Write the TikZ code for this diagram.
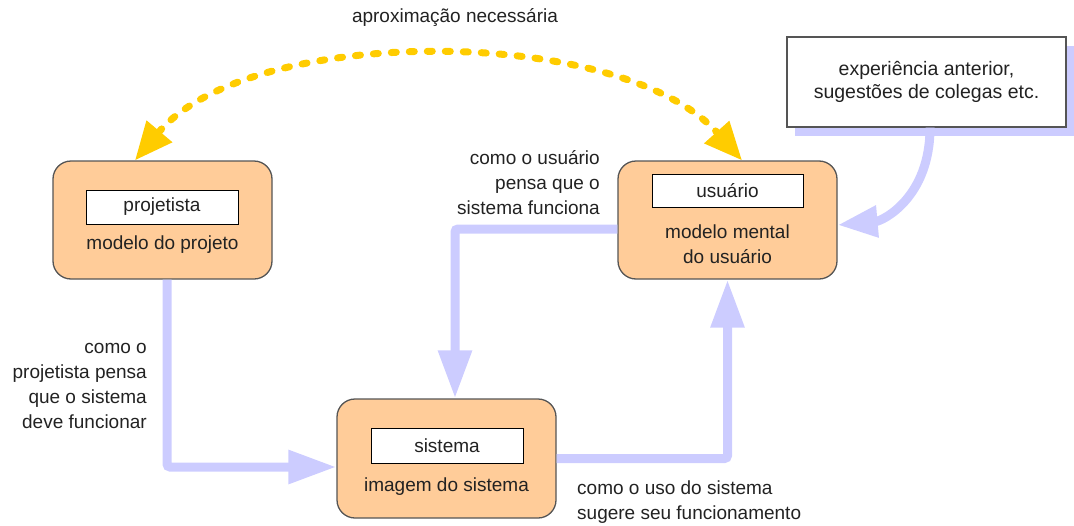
\documentclass[tikz,border=0pt]{standalone}
\usepackage{fontspec}
\setmainfont{Liberation Sans}
\usetikzlibrary{arrows.meta,shadows}
\definecolor{boxfill}{HTML}{FFCC99}
\definecolor{boxline}{HTML}{555555}
\definecolor{lav}{HTML}{CCCCFF}
\definecolor{gold}{HTML}{FFCC00}
\definecolor{txt}{HTML}{222222}
\begin{document}
\begin{tikzpicture}[x=1pt,y=-1pt,
  every node/.style={font=\fontsize{19}{25}\selectfont, text=txt},
  bigbox/.style={draw=boxline, line width=1.3pt, fill=boxfill, rounded corners=18pt, minimum width=219pt, minimum height=118pt, inner sep=0pt},
  tagbox/.style={draw=black, line width=1pt, fill=white, minimum width=152pt, minimum height=34pt, inner sep=0pt},
  plain/.style={inner sep=0pt},
  flow/.style={draw=lav, line width=9pt, rounded corners=3pt, -{Triangle[length=48pt,width=32pt]}},
  approx/.style={draw=gold, line width=7pt, line cap=round, dash pattern=on 5pt off 13pt, {Triangle[length=38pt,width=32pt,fill=gold]}-{Triangle[length=38pt,width=32pt,fill=gold]}}
]
\useasboundingbox (0,0) rectangle (1074,525);

% boxes
\node[bigbox] (proj) at (162.5,220) {};
\node[bigbox] (usu) at (727.5,220) {};
\node[bigbox, minimum height=119pt] (sis) at (446.5,458.5) {};

\node[tagbox] (projtag) at (162,207) {projetista};
\node[plain] (projtxt) at (162.5,245) {modelo do projeto};

\node[tagbox, minimum width=151pt, minimum height=33pt] (usutag) at (727.5,190.5) {usuário};
\node[plain, align=center] (usutxt) at (727.5,244.5) {modelo mental\\do usuário};

\node[tagbox, minimum height=35pt] (sistag) at (447,445.5) {sistema};
\node[plain] (sistxt) at (446.5,487) {imagem do sistema};

% experience box
\node[draw=boxline, line width=1.3pt, fill=white, minimum width=279pt, minimum height=90pt, align=center, inner sep=0pt,
  font=\fontsize{19.5}{23.5}\selectfont,
  general shadow={fill=lav, shadow xshift=8pt, shadow yshift=-9pt}] (exp) at (926.5,82) {experiência anterior,\\sugestões de colegas etc.};

% connectors
\draw[flow] (proj.south) ++(4.5,0) coordinate (p0) |- ([yshift=-8.5pt]sis.west);
\draw[flow] ([yshift=-9pt]usu.west) -| ([xshift=8.5pt]sis.north);
\draw[flow] (sis.east) -| (usu.south);
\draw[draw=lav, line width=9pt, -{Triangle[length=40pt,width=30pt]}]
  ([xshift=3.5pt]exp.south) .. controls +(0,70) and +(45,-4) .. ([yshift=-5pt]usu.east);

% approximation arc
\draw[approx] ([xshift=-27.5pt]proj.north) .. controls (250,24) and (620,24) .. ([xshift=14.5pt]usu.north);
\node[plain] (aprox) at (455,18) {aproximação necessária};

% labels
\node[plain, align=right, anchor=east] (lusu) at (600,182.5) {como o usuário\\pensa que o\\sistema funciona};
\node[plain, align=right, anchor=east] (lproj) at (147,386) {como o\\projetista pensa\\que o sistema\\deve funcionar};
\node[plain, align=left, anchor=west] (lsis) at (577,502) {como o uso do sistema\\sugere seu funcionamento};
\end{tikzpicture}
\end{document}
